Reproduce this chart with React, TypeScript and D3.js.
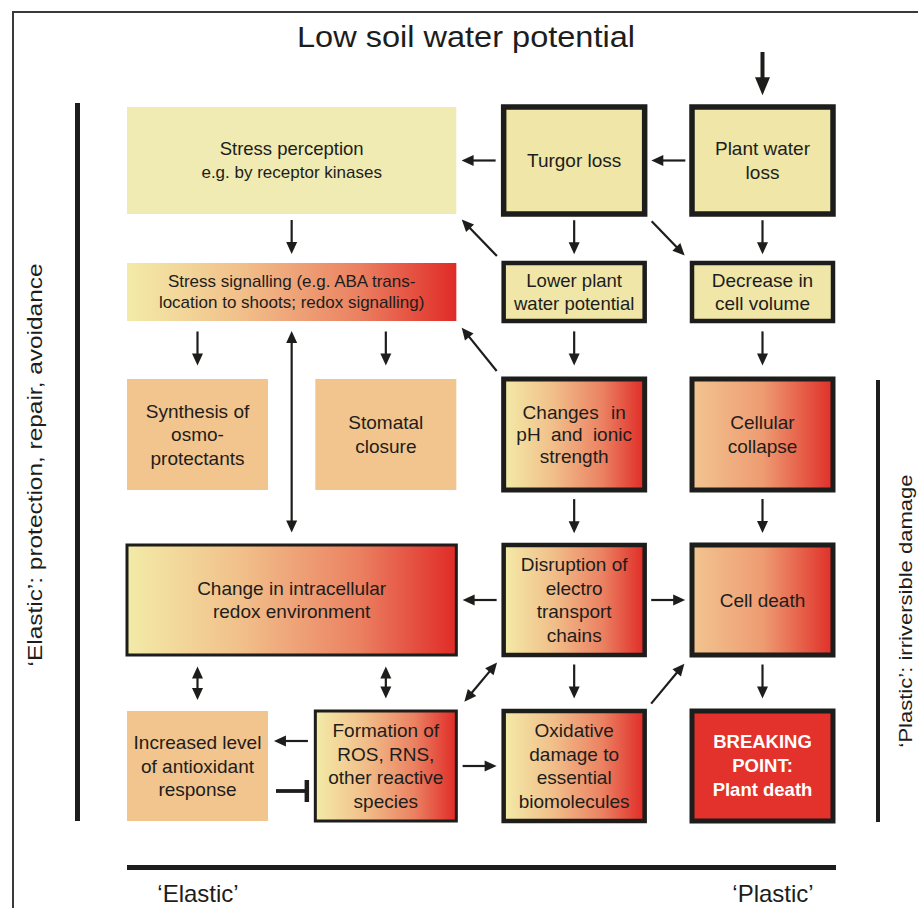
import React from 'react';
import * as d3 from 'd3';

// ---------- content ----------
const titleText = 'Low soil water potential';
const leftAxisLabel = '\u2018Elastic\u2019: protection, repair, avoidance';
const rightAxisLabel = '\u2018Plastic\u2019: irriversible damage';
const bottomLeftLabel = '\u2018Elastic\u2019';
const bottomRightLabel = '\u2018Plastic\u2019';

const boxIds = [
  'perception', 'turgor', 'waterLoss',
  'signalling', 'lowerPotential', 'cellVolume',
  'osmo', 'stomatal', 'phIonic', 'collapse',
  'redox', 'electron', 'cellDeath',
  'antioxidant', 'ros', 'oxidative', 'breaking',
];
const boxLines: string[][] = [
  ['Stress perception', 'e.g. by receptor kinases'],
  ['Turgor loss'],
  ['Plant water', 'loss'],
  ['Stress signalling (e.g. ABA trans-', 'location to shoots; redox signalling)'],
  ['Lower plant', 'water potential'],
  ['Decrease in', 'cell volume'],
  ['Synthesis of', 'osmo-', 'protectants'],
  ['Stomatal', 'closure'],
  ['Changes in', 'pH and ionic', 'strength'],
  ['Cellular', 'collapse'],
  ['Change in intracellular', 'redox environment'],
  ['Disruption of', 'electro', 'transport', 'chains'],
  ['Cell death'],
  ['Increased level', 'of antioxidant', 'response'],
  ['Formation of', 'ROS, RNS,', 'other reactive', 'species'],
  ['Oxidative', 'damage to', 'essential', 'biomolecules'],
  ['BREAKING', 'POINT:', 'Plant death'],
];
const boxCol = [0, 2, 3, 0, 2, 3, 0, 1, 2, 3, 0, 2, 3, 0, 1, 2, 3];
const boxColSpan = [2, 1, 1, 2, 1, 1, 1, 1, 1, 1, 2, 1, 1, 1, 1, 1, 1];
const boxRow = [0, 0, 0, 1, 1, 1, 2, 2, 2, 2, 3, 3, 3, 4, 4, 4, 4];
const boxKind = [
  'pale', 'framedPale', 'framedPale',
  'gradient', 'framedPale', 'framedPale',
  'tan', 'tan', 'framedGradient', 'framedWarm',
  'framedGradient', 'framedGradient', 'framedWarm',
  'tan', 'framedGradient', 'framedGradient', 'framedRed',
];

// connections: 'one' = arrow, 'two' = double-headed, 'inhibit' = T-bar, 'source' = from the title
const arrowFrom = [
  'soil', 'waterLoss', 'turgor', 'turgor', 'turgor', 'waterLoss',
  'lowerPotential', 'perception', 'signalling', 'signalling', 'signalling',
  'phIonic', 'lowerPotential', 'cellVolume', 'phIonic', 'collapse',
  'electron', 'electron', 'electron', 'cellDeath',
  'redox', 'redox', 'ros', 'ros', 'antioxidant', 'ros', 'oxidative',
];
const arrowTo = [
  'waterLoss', 'turgor', 'perception', 'lowerPotential', 'cellVolume', 'cellVolume',
  'perception', 'signalling', 'osmo', 'stomatal', 'redox',
  'signalling', 'phIonic', 'collapse', 'electron', 'cellDeath',
  'redox', 'cellDeath', 'oxidative', 'breaking',
  'antioxidant', 'ros', 'electron', 'antioxidant', 'ros', 'oxidative', 'cellDeath',
];
const arrowKind = [
  'source', 'one', 'one', 'one', 'one', 'one',
  'one', 'one', 'one', 'one', 'two',
  'one', 'one', 'one', 'one', 'one',
  'one', 'one', 'one', 'one',
  'two', 'two', 'two', 'one', 'inhibit', 'one', 'one',
];

// ---------- layout & style ----------
const FONT = "'Liberation Sans', Arial, Helvetica, sans-serif";
const INK = '#1d1d1b';
const borderWidth: Record<string, number> = {
  turgor: 5.5, waterLoss: 5.5, lowerPotential: 4.5, cellVolume: 4.5,
  phIonic: 5, collapse: 5, redox: 3, electron: 4.5, cellDeath: 5,
  ros: 3, oxidative: 4.5, breaking: 5,
};
const kindFill: Record<string, string> = {
  pale: '#efebb3', framedPale: '#efe6a7', tan: '#f2c48e',
  gradient: 'url(#gradYR)', framedGradient: 'url(#gradYR)',
  framedWarm: 'url(#gradWarm)', framedRed: '#e3312b',
};

type Box = { id: string; lines: string[]; kind: string; x0: number; x1: number; y0: number; y1: number;
  ox0: number; ox1: number; oy0: number; oy1: number; bw: number };

function arrowGeom(x1: number, y1: number, x2: number, y2: number, both: boolean, hl: number, hw: number) {
  const dx = x2 - x1, dy = y2 - y1;
  const len = Math.hypot(dx, dy);
  const ux = dx / len, uy = dy / len;
  const px = -uy, py = ux;
  const head = (tx: number, ty: number, sx: number, sy: number) => {
    const bx = tx - sx * hl, by = ty - sy * hl;
    const p = d3.path();
    p.moveTo(tx, ty);
    p.lineTo(bx + px * hw, by + py * hw);
    p.lineTo(bx - px * hw, by - py * hw);
    p.closePath();
    return p.toString();
  };
  const heads = [head(x2, y2, ux, uy)];
  if (both) heads.push(head(x1, y1, -ux, -uy));
  const a = both ? hl * 0.8 : 0;
  const b = hl * 0.8;
  const line = d3.line()([[x1 + ux * a, y1 + uy * a], [x2 - ux * b, y2 - uy * b]]) as string;
  return { line, heads };
}

export default function App() {
  const W = 918, H = 908;
  const colScale = d3.scaleLinear().domain([0, 3]).range([127, 692]);
  const colW = 141;
  const rowTop = d3.scaleOrdinal<number, number>().domain([0, 1, 2, 3, 4]).range([107, 263, 379, 545, 711]);
  const rowHeight = d3.scaleOrdinal<number, number>().domain([0, 1, 2, 3, 4]).range([107, 58, 111, 110, 110]);

  const boxes: Box[] = boxIds.map((id, i) => {
    const x0 = colScale(boxCol[i]);
    const x1 = colScale(boxCol[i] + boxColSpan[i] - 1) + colW;
    const y0 = rowTop(boxRow[i]);
    const y1 = y0 + rowHeight(boxRow[i]);
    const bw = borderWidth[id] || 0;
    return { id, lines: boxLines[i], kind: boxKind[i], x0, x1, y0, y1,
      ox0: x0 - bw / 2, ox1: x1 + bw / 2, oy0: y0 - bw / 2, oy1: y1 + bw / 2, bw };
  });
  const byId = new Map(boxes.map(b => [b.id, b]));

  const pairKey = (a: string, b: string) => [a, b].sort().join('|');
  const pairCount = new Map<string, number>();
  arrowFrom.forEach((f, i) => { const k = pairKey(f, arrowTo[i]); pairCount.set(k, (pairCount.get(k) || 0) + 1); });
  const pairSeen = new Map<string, number>();

  const arrows: { line: string; heads: string[]; lw: number; bar?: string }[] = [];
  arrowFrom.forEach((fromId, i) => {
    const kind = arrowKind[i];
    const B = byId.get(arrowTo[i])!;
    if (kind === 'source') {
      const x = (B.x0 + B.x1) / 2;
      const g = arrowGeom(x, 52, x, B.oy0 - 9, false, 18, 7.5);
      arrows.push({ ...g, lw: 4 });
      return;
    }
    const A = byId.get(fromId)!;
    const k = pairKey(fromId, arrowTo[i]);
    const n = pairCount.get(k)!;
    const idx = pairSeen.get(k) || 0;
    pairSeen.set(k, idx + 1);
    const offset = n > 1 ? (idx - (n - 1) / 2) * 50 : 0;
    const both = kind === 'two';
    const xo = Math.min(A.x1, B.x1) - Math.max(A.x0, B.x0);
    const yo = Math.min(A.y1, B.y1) - Math.max(A.y0, B.y0);
    let x1: number, y1: number, x2: number, y2: number;
    if (xo > 0) {
      const x = (Math.max(A.x0, B.x0) + Math.min(A.x1, B.x1)) / 2 + offset;
      const down = A.y0 < B.y0;
      const g0 = down ? A.oy1 : B.oy1;
      const g1 = down ? B.oy0 : A.oy0;
      let t: number, b: number;
      if (both) { t = g0 + 10; b = g1 - 11; }
      else { const c = (g0 + g1) / 2 - 1.5; t = c - 17; b = c + 17; }
      x1 = x; x2 = x;
      y1 = down ? t : b; y2 = down ? b : t;
    } else if (yo > 0) {
      const y = (Math.max(A.y0, B.y0) + Math.min(A.y1, B.y1)) / 2 + offset;
      const right = A.x0 < B.x0;
      const g0 = right ? A.ox1 : B.ox1;
      const g1 = right ? B.ox0 : A.ox0;
      let l: number, r: number;
      if (kind === 'inhibit') {
        l = right ? g0 + 8 : g0 + 7; r = right ? g1 - 7 : g1 - 8;
      } else { const c = (g0 + g1) / 2; l = c - 17; r = c + 17; }
      y1 = y; y2 = y;
      x1 = right ? l : r; x2 = right ? r : l;
    } else {
      const right = A.x0 < B.x0, down = A.y0 < B.y0;
      const ax = right ? A.ox1 : A.ox0, ay = down ? A.oy1 : A.oy0;
      const bx = right ? B.ox0 : B.ox1, by = down ? B.oy0 : B.oy1;
      const t0 = both ? 0.15 : 0.1, t1 = both ? 0.9 : 0.88;
      x1 = ax + (bx - ax) * t0; y1 = ay + (by - ay) * t0;
      x2 = ax + (bx - ax) * t1; y2 = ay + (by - ay) * t1;
    }
    if (kind === 'inhibit') {
      const line = d3.line()([[x1, y1], [x2, y2]]) as string;
      const bar = d3.line()([[x2, y2 - 11], [x2, y2 + 11]]) as string;
      arrows.push({ line, heads: [], lw: 3.8, bar });
    } else {
      arrows.push({ ...arrowGeom(x1, y1, x2, y2, both, 12, 5.5), lw: 2.2 });
    }
  });

  const textStyle = (id: string, li: number) => {
    if (id === 'signalling') return { size: 17, lh: 21, weight: 400, fill: INK, ws: 0 };
    if (id === 'perception') return { size: li === 0 ? 18.5 : 17, lh: 24, weight: 400, fill: INK, ws: 0 };
    if (id === 'breaking') return { size: 18.5, lh: 24, weight: 700, fill: '#ffffff', ws: 0 };
    if (id === 'phIonic' && li < 2) return { size: 19, lh: 22, weight: 400, fill: INK, ws: li === 0 ? 7 : 5 };
    if (id === 'phIonic') return { size: 19, lh: 22, weight: 400, fill: INK, ws: 0 };
    if (id === 'lowerPotential') return { size: 18.5, lh: 23, weight: 400, fill: INK, ws: 0 };
    return { size: 19, lh: 23.5, weight: 400, fill: INK, ws: 0 };
  };

  return (
    <svg width={W} height={H} viewBox={`0 0 ${W} ${H}`}
      style={{ position: 'absolute', left: 0, top: 0, display: 'block', background: '#ffffff' }}
      fontFamily={FONT}>
      <defs>
        <linearGradient id="gradYR" x1="0" y1="0" x2="1" y2="0">
          <stop offset="0" stopColor="#f3eba8" />
          <stop offset="0.35" stopColor="#f1bf8a" />
          <stop offset="0.7" stopColor="#eb8262" />
          <stop offset="1" stopColor="#e02b27" />
        </linearGradient>
        <linearGradient id="gradWarm" x1="0" y1="0" x2="1" y2="0">
          <stop offset="0" stopColor="#f2c590" />
          <stop offset="0.5" stopColor="#ee9c72" />
          <stop offset="1" stopColor="#e02f29" />
        </linearGradient>
      </defs>
      <rect x={0} y={0} width={W} height={H} fill="#ffffff" />
      {/* outer frame */}
      <path d={`M13,${H} V12 H${W}`} fill="none" stroke="#3a3a3a" strokeWidth={2} />

      {/* title */}
      <text x={466} y={47} textAnchor="middle" fontSize={30} fill={INK}
        textLength={338} lengthAdjust="spacingAndGlyphs">{titleText}</text>

      {/* side bars and labels */}
      <rect x={75} y={103} width={5} height={718} fill={INK} />
      <rect x={876} y={380} width={4} height={442} fill={INK} />
      <rect x={127} y={865} width={709} height={5} fill={INK} />
      <text transform="translate(35,465) rotate(-90)" textAnchor="middle" dominantBaseline="central"
        fontSize={20} fill={INK} textLength={403} lengthAdjust="spacingAndGlyphs">{leftAxisLabel}</text>
      <text transform="translate(905,611) rotate(-90)" textAnchor="middle" dominantBaseline="central"
        fontSize={19} fill={INK} textLength={273} lengthAdjust="spacingAndGlyphs">{rightAxisLabel}</text>
      <text x={198} y={902} textAnchor="middle" fontSize={24} fill={INK}>{bottomLeftLabel}</text>
      <text x={773} y={902} textAnchor="middle" fontSize={24} fill={INK}>{bottomRightLabel}</text>

      {/* boxes */}
      {boxes.map(b => (
        <g key={b.id}>
          <rect x={b.x0} y={b.y0} width={b.x1 - b.x0} height={b.y1 - b.y0}
            fill={kindFill[b.kind]} stroke={b.bw ? INK : 'none'} strokeWidth={b.bw} />
          {b.lines.map((ln, li) => {
            const st = textStyle(b.id, li);
            const n = b.lines.length;
            const cy = (b.y0 + b.y1) / 2 + (li - (n - 1) / 2) * st.lh;
            return (
              <text key={li} x={(b.x0 + b.x1) / 2} y={cy + st.size * 0.35} textAnchor="middle"
                fontSize={st.size} fontWeight={st.weight} fill={st.fill}
                style={{ wordSpacing: st.ws ? `${st.ws}px` : undefined, whiteSpace: 'pre' }}>{ln}</text>
            );
          })}
        </g>
      ))}

      {/* arrows */}
      {arrows.map((a, i) => (
        <g key={i}>
          <path d={a.line} fill="none" stroke={INK} strokeWidth={a.lw} />
          {a.heads.map((h, j) => <path key={j} d={h} fill={INK} />)}
          {a.bar && <path d={a.bar} fill="none" stroke={INK} strokeWidth={4.5} />}
        </g>
      ))}
    </svg>
  );
}
